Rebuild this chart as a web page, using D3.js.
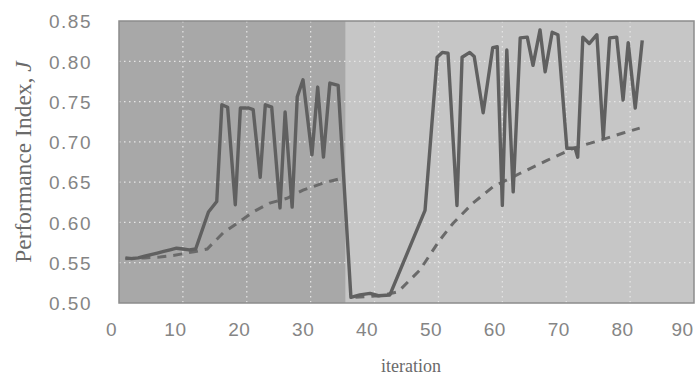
<!DOCTYPE html>
<html>
<head>
<meta charset="utf-8">
<script src="https://cdn.jsdelivr.net/npm/d3@7"></script>
<style>
  body { margin: 0; background: #fff; }
  svg { display: block; }
</style>
</head>
<body>
<svg id="chart"></svg>
<script>
// iteration / value pairs (vertices of the solid trace)
const solidIter = [1, 2, 3, 4, 5, 6, 7, 8, 9, 10, 11, 12, 14, 15.3,
  16.1, 17, 18.2, 19, 20.3, 21, 22.1, 22.9, 23.9, 25.2, 26, 27.1, 27.9, 28.8,
  30.2, 31.1, 32, 33, 34.3, 36.3, 37.7, 39.3, 40.6, 42.4, 47.9, 49.8, 50.6,
  51.5, 52.9, 53.7, 54.9, 55.6, 57, 58.5, 59.2, 60, 60.7, 61.7, 62.8, 63.9,
  64.8, 65.9, 66.7, 67.8, 68.7, 70.1, 71.4, 71.8, 72.6, 73.6, 74.8, 75.8,
  76.8, 77.9, 78.9, 79.7, 80.8, 81.9];
const solidVal = [0.556, 0.555, 0.556, 0.558, 0.560, 0.562, 0.564, 0.566, 0.568, 0.567, 0.566, 0.567, 0.613, 0.626,
  0.746, 0.743, 0.622, 0.742, 0.742, 0.740, 0.656, 0.746, 0.743, 0.618, 0.737, 0.619, 0.756, 0.777,
  0.684, 0.768, 0.681, 0.773, 0.770, 0.507, 0.510, 0.512, 0.509, 0.510, 0.615, 0.805, 0.811,
  0.810, 0.621, 0.805, 0.811, 0.806, 0.736, 0.817, 0.818, 0.621, 0.814, 0.638, 0.829, 0.830,
  0.795, 0.839, 0.787, 0.836, 0.833, 0.692, 0.692, 0.681, 0.830, 0.822, 0.833, 0.705,
  0.829, 0.830, 0.752, 0.823, 0.742, 0.826];

// dashed trace (running average), two separate runs
const dashRun1Iter = [1, 4, 6.4, 8.5, 10.6, 12, 13.8, 16.3, 18.5, 21, 23.6, 26.3, 28.8, 32, 35];
const dashRun1Val = [0.555, 0.556, 0.557, 0.559, 0.562, 0.564, 0.567, 0.587, 0.599, 0.613, 0.624, 0.630, 0.640, 0.649, 0.655];
const dashRun2Iter = [37, 41, 43.7, 47.1, 50.2, 52.3, 55.4, 58.5, 62.8, 67, 71.1, 75.3, 78.9, 81.5];
const dashRun2Val = [0.507, 0.509, 0.514, 0.541, 0.578, 0.599, 0.624, 0.644, 0.661, 0.677, 0.692, 0.702, 0.711, 0.717];

// shaded phases of the run
const phaseStart = [0, 35.5];
const phaseEnd = [35.5, 90];
const phaseFill = ['#a8a8a8', '#c6c6c6'];

const xTicks = [0, 10, 20, 30, 40, 50, 60, 70, 80, 90];
const yTicks = [0.50, 0.55, 0.60, 0.65, 0.70, 0.75, 0.80, 0.85];

const width = 696, height = 379;
const margin = { top: 21, right: 2, bottom: 76, left: 119 };
const w = width - margin.left - margin.right;
const h = height - margin.top - margin.bottom;

const svg = d3.select('#chart')
    .attr('width', width)
    .attr('height', height);

const g = svg.append('g')
    .attr('transform', `translate(${margin.left},${margin.top})`);

const x = d3.scaleLinear().domain([0, 90]).range([0, w]);
const y = d3.scaleLinear().domain([0.50, 0.85]).range([h, 0]);

// background phases
g.selectAll('rect.phase')
  .data(phaseStart)
  .enter()
  .append('rect')
  .attr('class', 'phase')
  .attr('x', d => x(d))
  .attr('y', 0)
  .attr('width', (d, i) => x(phaseEnd[i]) - x(d))
  .attr('height', h)
  .attr('fill', (d, i) => phaseFill[i]);

// dotted white grid
g.selectAll('line.vgrid')
  .data(xTicks.slice(1, -1))
  .enter()
  .append('line')
  .attr('x1', d => x(d)).attr('x2', d => x(d))
  .attr('y1', 0).attr('y2', h)
  .attr('stroke', '#e6e6e6')
  .attr('stroke-width', 1.2)
  .attr('stroke-dasharray', '1.5,3.5');

g.selectAll('line.hgrid')
  .data(yTicks.slice(1, -1))
  .enter()
  .append('line')
  .attr('x1', 0).attr('x2', w)
  .attr('y1', d => y(d)).attr('y2', d => y(d))
  .attr('stroke', '#e6e6e6')
  .attr('stroke-width', 1.2)
  .attr('stroke-dasharray', '1.5,3.5');

// frame
g.append('rect')
  .attr('width', w)
  .attr('height', h)
  .attr('fill', 'none')
  .attr('stroke', '#8c8c8c')
  .attr('stroke-width', 1.5);

const line = d3.line()
    .x(d => x(d[0]))
    .y(d => y(d[1]));

const solid = solidIter.map((d, i) => [d, solidVal[i]]);
const dash1 = dashRun1Iter.map((d, i) => [d, dashRun1Val[i]]);
const dash2 = dashRun2Iter.map((d, i) => [d, dashRun2Val[i]]);

[dash1, dash2].forEach(run => {
  g.append('path')
    .datum(run)
    .attr('d', line)
    .attr('fill', 'none')
    .attr('stroke', '#6a6a6a')
    .attr('stroke-width', 3)
    .attr('stroke-dasharray', '9,7');
});

g.append('path')
  .datum(solid)
  .attr('d', line)
  .attr('fill', 'none')
  .attr('stroke', '#606060')
  .attr('stroke-width', 3.4)
  .attr('stroke-linejoin', 'round');

// axes (labels only, no tick marks)
const xAxis = d3.axisBottom(x).tickValues(xTicks).tickSize(0).tickPadding(20).tickFormat(d3.format('d'));
const yAxis = d3.axisLeft(y).tickValues(yTicks).tickSize(0).tickPadding(27).tickFormat(d3.format('.2f'));

const xAxisG = g.append('g')
    .attr('transform', `translate(0,${h})`)
    .call(xAxis);
const yAxisG = g.append('g').call(yAxis);

[xAxisG, yAxisG].forEach(a => {
  a.select('.domain').remove();
  a.selectAll('text')
    .style('font-family', '"Liberation Sans", Arial, sans-serif')
    .style('font-size', '19px')
    .attr('fill', '#858585');
});
yAxisG.selectAll('text').style('letter-spacing', '1.5px').attr('dy', '0.36em');
// last label sits against the right edge, nudge it in a bit more
xAxisG.selectAll('text').style('letter-spacing', '0.5px').attr('dx', d => d === 90 ? -12 : -8);

// axis titles
svg.append('text')
   .attr('x', 411)
   .attr('y', 372)
   .attr('text-anchor', 'middle')
   .style('font-family', '"Liberation Serif", "Times New Roman", serif')
   .style('font-size', '18px')
   .attr('fill', '#6a6a6a')
   .text('iteration');

const yt = svg.append('text')
   .attr('transform', `translate(31,${margin.top + h / 2}) rotate(-90)`)
   .attr('text-anchor', 'middle')
   .style('font-family', '"Liberation Serif", "Times New Roman", serif')
   .style('font-size', '23.5px')
   .attr('fill', '#6a6a6a');
yt.append('tspan').text('Performance Index, ');
yt.append('tspan').style('font-style', 'italic').text('J');
</script>
</body>
</html>
